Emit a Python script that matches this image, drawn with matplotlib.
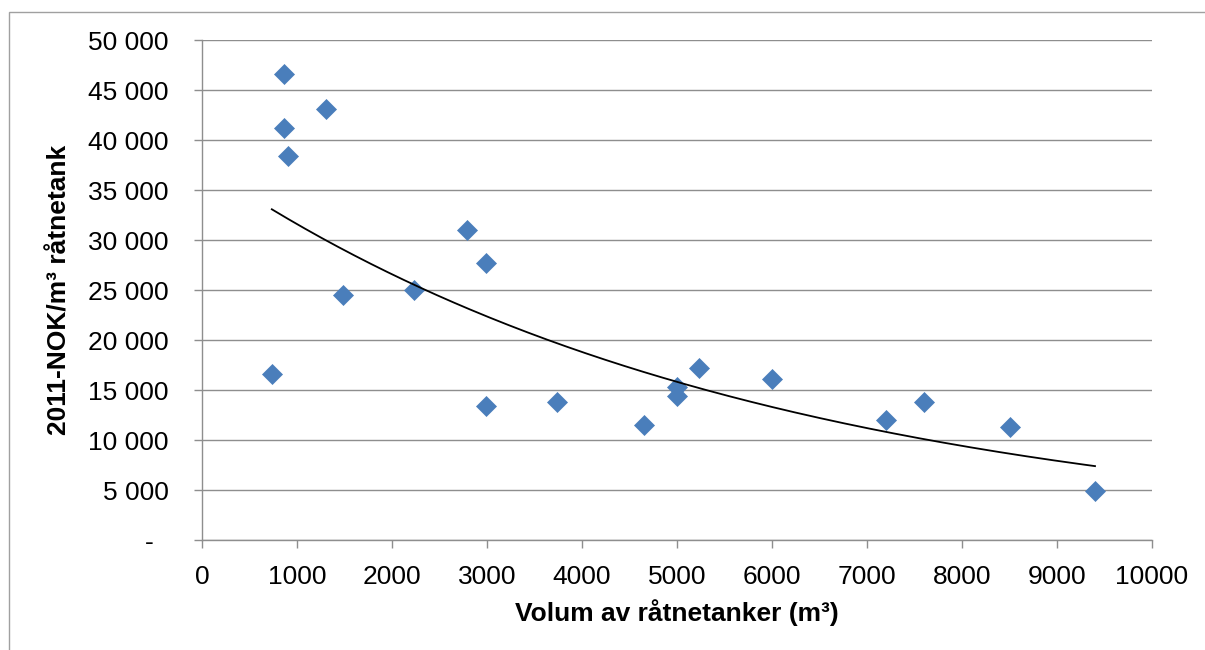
import numpy as np
import matplotlib
matplotlib.use('Agg')
from matplotlib import pyplot as plt
from matplotlib.ticker import FuncFormatter, MultipleLocator
from matplotlib.patches import Rectangle

plt.rcParams['font.family'] = ['Liberation Sans', 'DejaVu Sans']

# volume of digester tanks (m3) vs cost per m3
volum = np.array([735, 867, 867, 902, 1305, 1483, 2235, 2786, 2986, 2986,
                  3738, 4650, 5000, 5000, 5236, 6000, 7200, 7600, 8500, 9400])
kost = np.array([16600, 46600, 41200, 38400, 43100, 24500, 25000, 31000, 27700, 13400,
                 13800, 11500, 15300, 14400, 17200, 16100, 12000, 13800, 11300, 4950])

xlabel = 'Volum av råtnetanker (m³)'
ylabel = '2011-NOK/m³ råtnetank'

# exponential trendline (like excel): fit ln(y) = b*x + ln(a)
b, lna = np.polyfit(volum, np.log(kost), 1)
fit_x = np.linspace(volum.min(), volum.max(), 300)
fit_y = np.exp(lna) * np.exp(b * fit_x)

fig = plt.figure(figsize=(12.05, 6.5), dpi=100)
ax = fig.add_axes([202/1205, 1 - 540/650, 950/1205, 500/650])

# outer chart frame
fig.patches.append(Rectangle((9/1205, -0.1), 1.2, 1 - 12/650 + 0.1, transform=fig.transFigure,
                             fill=False, edgecolor='#a0a0a0', lw=1.0))

gridc = '#8e8e8e'
ax.plot(volum, kost, 'D', color='#4A7EBB', ms=10, mec='#4A7EBB', mew=0.5, zorder=3, clip_on=False)
ax.plot(fit_x, fit_y, color='black', lw=1.3, zorder=4)

ax.set_xlim(0, 10000)
ax.set_ylim(0, 50000)
ax.xaxis.set_major_locator(MultipleLocator(1000))
ax.yaxis.set_major_locator(MultipleLocator(5000))
# accounting style: dash for zero, space as thousands separator
ax.yaxis.set_major_formatter(FuncFormatter(lambda v, p: '-  ' if v == 0 else f'{v:,.0f}'.replace(',', ' ')))

ax.grid(axis='y', color=gridc, lw=1.0)
ax.set_axisbelow(True)
for s in ['top', 'right']:
    ax.spines[s].set_visible(False)
for s in ['left', 'bottom']:
    ax.spines[s].set_color(gridc)
    ax.spines[s].set_linewidth(1.0)

ax.tick_params(axis='both', colors=gridc, labelcolor='black', labelsize=19, length=6, width=1.0)
ax.tick_params(axis='y', pad=18)
ax.tick_params(axis='x', pad=12)

ax.set_xlabel(xlabel, fontsize=19, fontweight='bold')
ax.set_ylabel(ylabel, fontsize=19, fontweight='bold')
ax.xaxis.set_label_coords(0.5, -0.118)
ax.yaxis.set_label_coords(-0.137, 0.5)

fig.savefig('out.png', dpi=100)
